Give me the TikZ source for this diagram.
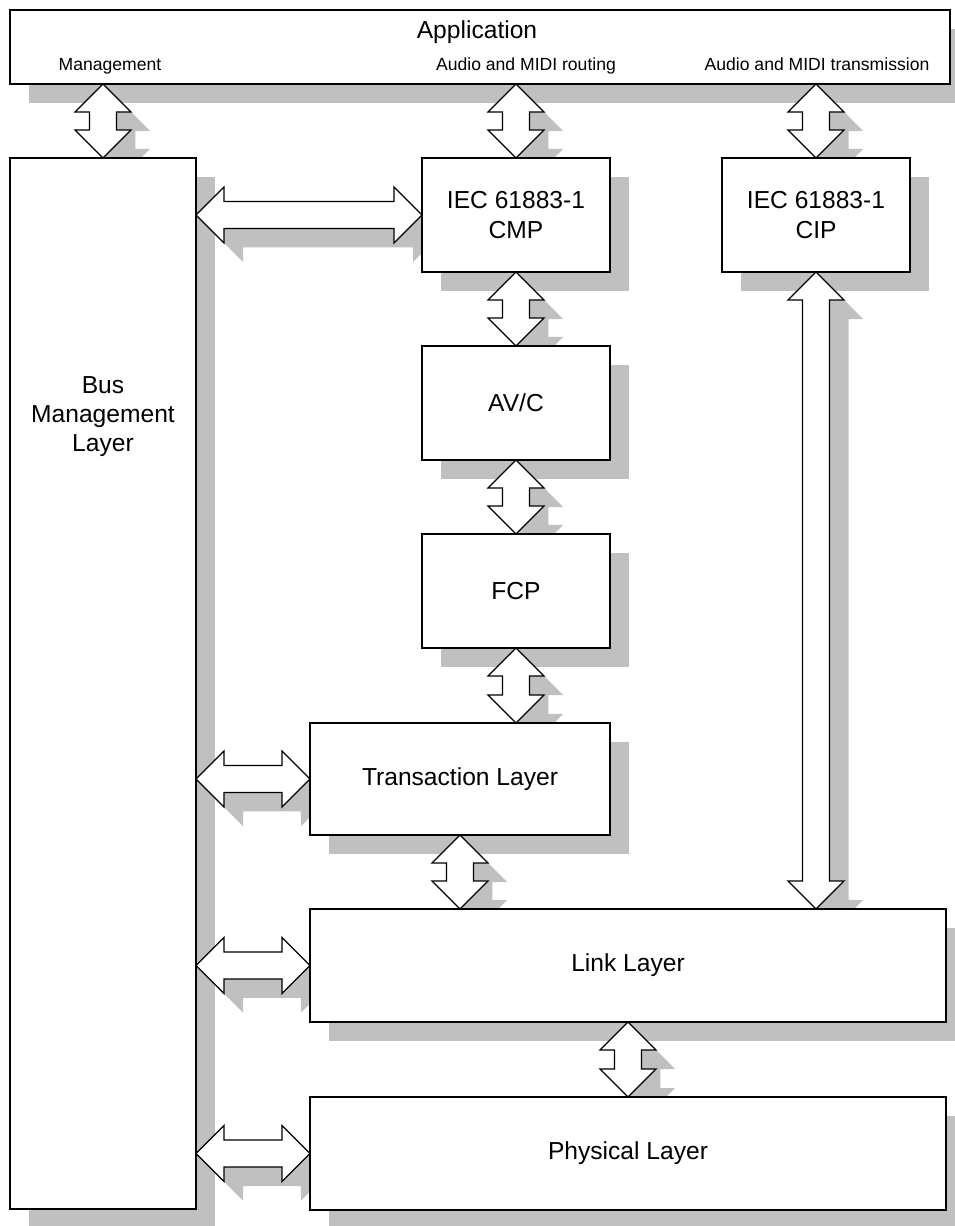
\documentclass[tikz,border=0pt]{standalone}
\usepackage{fontspec}
\setmainfont{Liberation Sans}
\usepackage{tikz}
\usetikzlibrary{calc}
\usetikzlibrary{positioning}

\definecolor{shadowgray}{RGB}{192,192,192}
\pgfdeclarelayer{bg}
\pgfsetlayers{bg,main}

% fat double arrow between two points
\newcommand{\fatarrow}[2]{(#1) -- ($(#1)!0.792cm!45:(#2)$) -- ($(#1)!0.622cm!25.7:(#2)$) -- ($(#2)!0.622cm!-25.7:(#1)$) -- ($(#2)!0.792cm!-45:(#1)$) -- (#2) -- ($(#2)!0.792cm!45:(#1)$) -- ($(#2)!0.622cm!25.7:(#1)$) -- ($(#1)!0.622cm!-25.7:(#2)$) -- ($(#1)!0.792cm!-45:(#2)$) -- cycle}

\tikzset{
  layerbox/.style={draw, fill=white, line width=0.7pt, inner sep=0pt, outer sep=0pt, align=center, font=\fontsize{14}{17}\selectfont},
  boxtext/.style={align=center, font=\fontsize{14}{16.5}\selectfont},
  sublabel/.style={anchor=base, inner sep=0pt, font=\fontsize{10}{12}\selectfont},
  arrowbody/.style={draw, fill=white, line width=0.7pt},
  shadowfill/.style={fill=shadowgray, transform canvas={xshift=0.38cm, yshift=-0.38cm}}
}

\begin{document}
\begin{tikzpicture}[node distance=1.48cm]
\useasboundingbox (0,0) rectangle (19.08,-24.52);

\node[layerbox, minimum width=18.8cm, minimum height=1.48cm] (app) at (9.6,-0.94) {};
\node[anchor=base, inner sep=0pt, font=\fontsize{14}{17}\selectfont] (apptitle) at ($(app.north)+(-0.06,-0.58)$) {Application};
\node[sublabel] (mgmtlabel) at ($(app.south west)+(2.0,0.26)$) {Management};
\node[sublabel] (routlabel) at ($(app.south west)+(10.32,0.26)$) {Audio and MIDI routing};
\node[sublabel] (trmtlabel) at ($(app.south west)+(16.14,0.26)$) {Audio and MIDI transmission};

\node[layerbox, minimum width=3.72cm, minimum height=21.02cm, below=of app.south west, anchor=north west] (bus) {};
\node[boxtext] (bustext) at ($(bus.north)+(0,-5.18)$) {Bus\\Management\\Layer};

\node[layerbox, minimum width=3.76cm, minimum height=2.28cm, right=4.52cm of bus.north east, anchor=north west] (cmp) {IEC 61883-1\\CMP};
\node[layerbox, minimum width=3.76cm, minimum height=2.28cm, right=2.24cm of cmp] (cip) {IEC 61883-1\\CIP};
\node[layerbox, minimum width=3.76cm, minimum height=2.28cm, below=of cmp] (avc) {AV/C};
\node[layerbox, minimum width=3.76cm, minimum height=2.28cm, below=of avc] (fcp) {FCP};
\node[layerbox, minimum width=6cm, minimum height=2.24cm, below=1.5cm of fcp.south east, anchor=north east] (trans) {Transaction Layer};
\node[layerbox, minimum width=12.72cm, minimum height=2.26cm, below=of trans.south west, anchor=north west] (link) {Link Layer};
\node[layerbox, minimum width=12.72cm, minimum height=2.26cm, below=1.5cm of link] (phys) {Physical Layer};

\coordinate (mgmt) at (bus.north |- app.south);
\coordinate (rout) at (cmp.north |- app.south);
\coordinate (trmt) at (cip.north |- app.south);
\coordinate (fcpend) at (fcp.south |- trans.north);
\coordinate (transend) at (trans.south |- link.north);
\coordinate (cipend) at (cip.south |- link.north);
\coordinate (bcmp) at (bus.east |- cmp.west);
\coordinate (btrans) at (bus.east |- trans.west);
\coordinate (blink) at (bus.east |- link.west);
\coordinate (bphys) at (bus.east |- phys.west);

% shadows
\begin{pgfonlayer}{bg}
\foreach \n in {app,bus,cmp,cip,avc,fcp,trans,link,phys}
  \fill[shadowfill] (\n.north west) rectangle (\n.south east);
\foreach \a/\b in {mgmt/bus.north, rout/cmp.north, trmt/cip.north, cmp.south/avc.north, avc.south/fcp.north, fcp.south/fcpend, trans.south/transend, link.south/phys.north, cip.south/cipend, bcmp/cmp.west, btrans/trans.west, blink/link.west, bphys/phys.west}
  \fill[shadowfill] \fatarrow{\a}{\b};
\end{pgfonlayer}

% arrows
\foreach \a/\b in {mgmt/bus.north, rout/cmp.north, trmt/cip.north, cmp.south/avc.north, avc.south/fcp.north, fcp.south/fcpend, trans.south/transend, link.south/phys.north, cip.south/cipend, bcmp/cmp.west, btrans/trans.west, blink/link.west, bphys/phys.west}
  \draw[arrowbody] \fatarrow{\a}{\b};
\end{tikzpicture}
\end{document}
